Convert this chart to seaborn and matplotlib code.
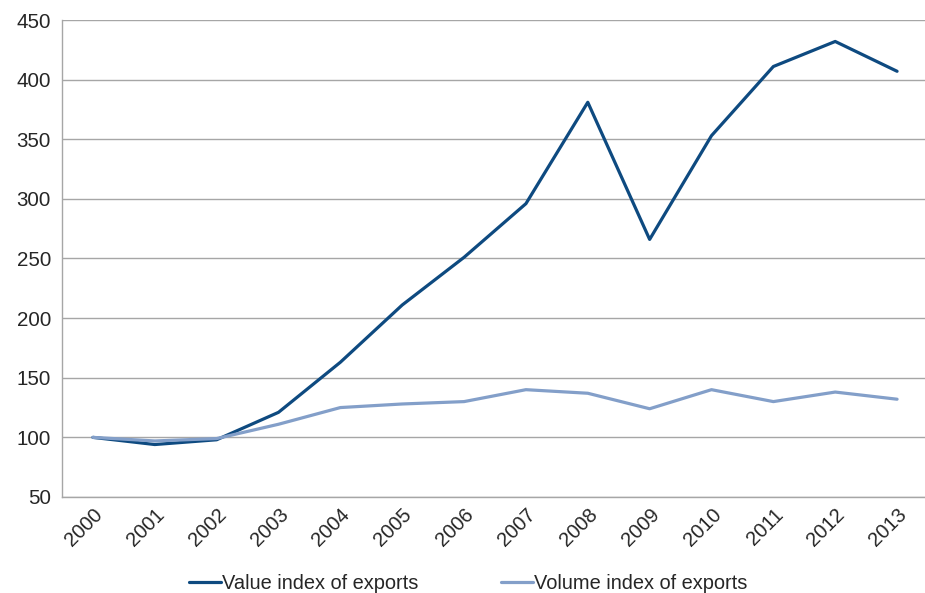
import pandas as pd
import matplotlib
matplotlib.use("Agg")
import matplotlib.pyplot as plt
import seaborn as sns

years = ["2000", "2001", "2002", "2003", "2004", "2005", "2006",
         "2007", "2008", "2009", "2010", "2011", "2012", "2013"]
value_index = [100, 94, 98, 121, 163, 211, 251, 296, 381, 266, 353, 411, 432, 407]
volume_index = [100, 97, 99, 111, 125, 128, 130, 140, 137, 124, 140, 130, 138, 132]
series_names = ["Value index of exports", "Volume index of exports"]

df = pd.DataFrame({
    "year": years * 2,
    "index": value_index + volume_index,
    "series": [series_names[0]] * len(years) + [series_names[1]] * len(years),
})

sns.set_style("white")
plt.rcParams["font.family"] = ["Liberation Sans", "DejaVu Sans"]

fig = plt.figure(figsize=(9.25, 5.93), dpi=100)
ax = fig.add_axes([62 / 925, 96 / 593, 866 / 925, 477 / 593])

palette = {series_names[0]: "#0E4A80", series_names[1]: "#839FC9"}
sns.lineplot(data=df, x="year", y="index", hue="series", palette=palette,
             linewidth=2.3, sort=False, ax=ax, legend=False)

# grid
ax.set_ylim(50, 450)
ax.set_yticks(range(50, 451, 50))
ax.yaxis.grid(True, color="#a6a6a6", linewidth=1)
ax.set_axisbelow(True)
ax.set_xlim(-0.5, len(years) - 0.5)

# category ticks at bin edges
ax.set_xticks(range(len(years)))
ax.set_xticklabels(years, rotation=45, ha="right", rotation_mode="anchor")
ax.set_xticks([i - 0.5 for i in range(len(years) + 1)], minor=True)
ax.tick_params(axis="x", which="major", length=0, pad=6, labelsize=14.5)
ax.tick_params(axis="x", which="minor", length=5, color="#a6a6a6", width=1,
               direction="out")
ax.tick_params(axis="y", length=5, color="#a6a6a6", width=1, labelsize=14.8, pad=3)

for s in ["top", "right"]:
    ax.spines[s].set_visible(False)
for s in ["left", "bottom"]:
    ax.spines[s].set_color("#a6a6a6")
    ax.spines[s].set_linewidth(1)

ax.set_xlabel("")
ax.set_ylabel("")

handles = [plt.Line2D([], [], color=palette[n], linewidth=2.3) for n in series_names]
fig.legend(handles, series_names, loc="lower center", bbox_to_anchor=(0.506, -0.03),
           ncol=2, frameon=False, fontsize=14.4, handlelength=1.6, handletextpad=0.05,
           columnspacing=4.1)

fig.savefig("out.png", dpi=100)
